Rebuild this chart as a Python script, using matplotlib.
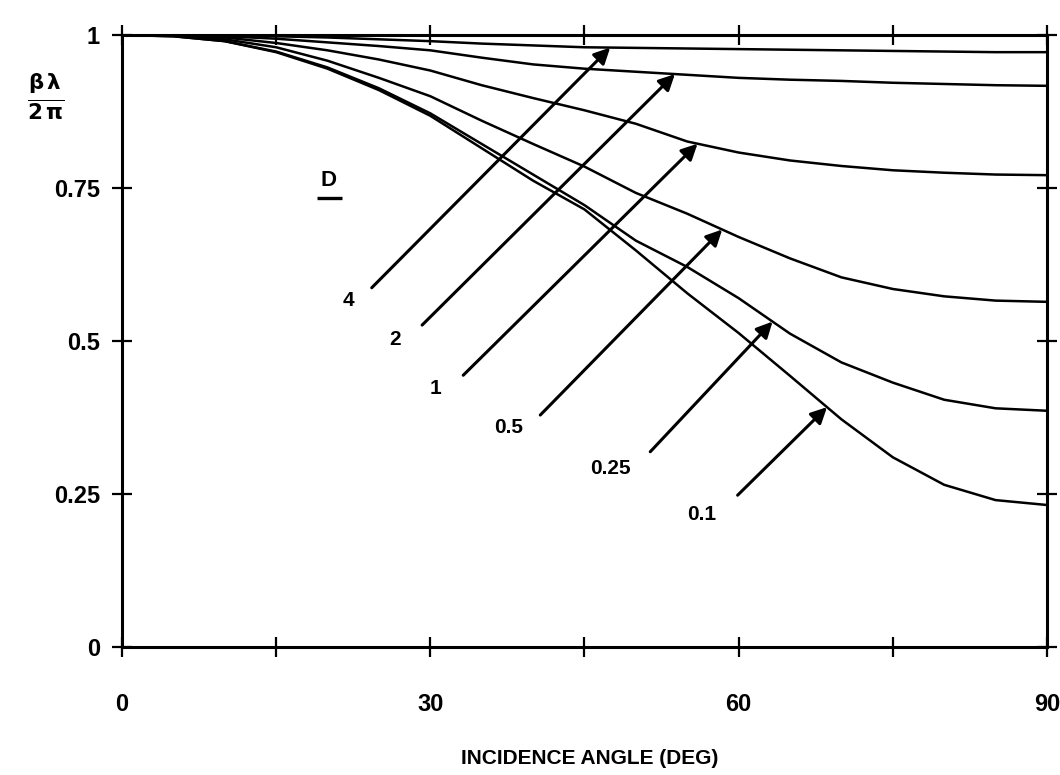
import numpy as np
import matplotlib
matplotlib.use("Agg")
import matplotlib.pyplot as plt

# incidence angle (deg)
angle = [0, 5, 10, 15, 20, 25, 30, 35, 40, 45, 50, 55, 60, 65, 70, 75, 80, 85, 90]

# beta*lambda/(2*pi) for each D value
d_01 = [1.0, 0.998, 0.990, 0.972, 0.945, 0.910, 0.868, 0.815, 0.762, 0.715, 0.648, 0.578,
        0.513, 0.443, 0.372, 0.310, 0.265, 0.240, 0.232]
d_025 = [1.0, 0.998, 0.990, 0.973, 0.947, 0.913, 0.872, 0.822, 0.772, 0.722, 0.664, 0.621,
         0.570, 0.512, 0.465, 0.432, 0.404, 0.390, 0.386]
d_05 = [1.0, 0.999, 0.993, 0.980, 0.958, 0.930, 0.900, 0.860, 0.822, 0.785, 0.742, 0.708,
        0.670, 0.635, 0.604, 0.585, 0.573, 0.566, 0.564]
d_1 = [1.0, 1.0, 0.996, 0.987, 0.975, 0.960, 0.942, 0.918, 0.897, 0.877, 0.855, 0.826,
       0.808, 0.795, 0.786, 0.779, 0.775, 0.772, 0.771]
d_2 = [1.0, 1.0, 0.998, 0.994, 0.988, 0.982, 0.975, 0.963, 0.952, 0.945, 0.940, 0.935,
       0.930, 0.927, 0.925, 0.922, 0.920, 0.918, 0.917]
d_4 = [1.0, 1.0, 1.0, 0.998, 0.996, 0.993, 0.990, 0.986, 0.983, 0.980, 0.979, 0.978,
       0.977, 0.976, 0.975, 0.974, 0.973, 0.972, 0.972]

curves = [d_01, d_025, d_05, d_1, d_2, d_4]
d_labels = ['0.1', '0.25', '0.5', '1', '2', '4']

# arrow tip angle, arrow tail and label position (angle, value) for each curve label
tip_angle = [68.6, 63.3, 58.4, 56.0, 53.8, 47.5]
tail_pos = [(59.9, 0.248), (51.4, 0.319), (40.7, 0.379), (33.2, 0.444), (29.2, 0.526), (24.3, 0.587)]
text_pos = [(56.4, 0.216), (47.5, 0.292), (37.6, 0.359), (30.5, 0.423), (26.6, 0.502), (22.0, 0.567)]

plt.rcParams['font.family'] = ['Liberation Sans', 'DejaVu Sans']
plt.rcParams['font.weight'] = 'bold'
plt.rcParams['mathtext.fontset'] = 'dejavusans'

fig = plt.figure(figsize=(10.6, 7.75), dpi=100)
ax = fig.add_axes([0.1151, 0.1652, 0.8726, 0.7896])

for c in curves:
    ax.plot(angle, c, color='black', lw=1.8)

for lab, ta, tp, xp, c in zip(d_labels, tip_angle, tail_pos, text_pos, curves):
    tip_val = np.interp(ta, angle, c)
    ax.annotate('', xy=(ta, tip_val), xytext=tp,
                arrowprops=dict(arrowstyle='-|>', color='black', lw=2.2,
                                mutation_scale=24, shrinkA=0, shrinkB=0))
    ax.text(xp[0], xp[1], lab, fontsize=15, fontweight='bold', ha='center', va='center')

# the underlined "D" heading for the curve labels
ax.text(20.1, 0.762, 'D', fontsize=16, fontweight='bold', ha='center', va='center')
ax.plot([19.0, 21.4], [0.733, 0.733], color='black', lw=2.4, solid_capstyle='butt')

ax.set_xlim(0, 90)
ax.set_ylim(0, 1)
ax.set_xticks([0, 30, 60, 90])
ax.set_xticks([15, 45, 75], minor=True)
ax.set_yticks([0, 0.25, 0.5, 0.75, 1])
ax.set_yticklabels(['0', '0.25', '0.5', '0.75', '1'])

ax.tick_params(axis='both', which='both', direction='inout', length=14, width=1.6,
               top=True, right=True, labelsize=17)
ax.tick_params(axis='x', which='major', pad=26)
ax.tick_params(axis='y', which='major', pad=9)
for lbl in ax.get_xticklabels() + ax.get_yticklabels():
    lbl.set_fontweight('bold')
for s in ax.spines.values():
    s.set_linewidth(2.2)

ax.set_xlabel('INCIDENCE ANGLE (DEG)', fontsize=15, fontweight='bold')
ax.xaxis.set_label_coords(0.506, -0.167)
ax.set_ylabel(r'$\mathbf{\frac{\beta\,\lambda}{2\,\pi}}$', fontsize=22, rotation=0,
              va='center', ha='center')
ax.yaxis.set_label_coords(-0.083, 0.9)

fig.savefig('out.png', dpi=100)
